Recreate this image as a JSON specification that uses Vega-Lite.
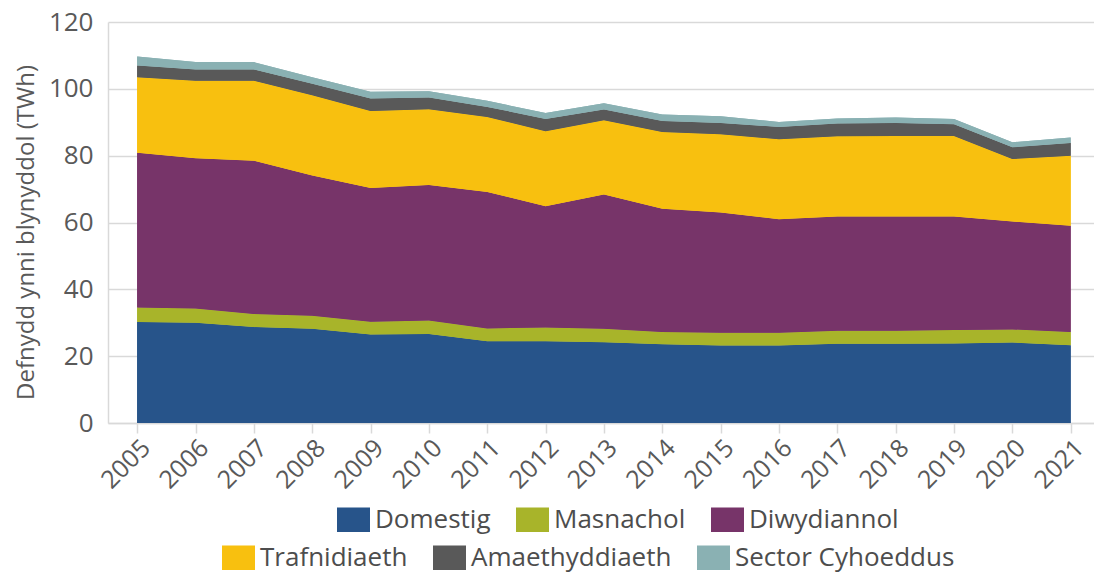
{
  "$schema": "https://vega.github.io/schema/vega-lite/v6.json",
  "autosize": "none",
  "padding": {"left": 108, "top": 22, "right": 0, "bottom": 151},
  "width": 986,
  "height": 401,
  "background": "white",
  "config": {
    "view": {"stroke": null},
    "font": "Open Sans",
    "axis": {"labelFont": "Open Sans", "titleFont": "Open Sans"},
    "legend": {"labelFont": "Open Sans"}
  },
  "data": {
    "values": [
      {"year": 2005, "sector": "Domestig", "o": 1, "value": 30.2},
      {"year": 2005, "sector": "Masnachol", "o": 2, "value": 4.4},
      {"year": 2005, "sector": "Diwydiannol", "o": 3, "value": 46.3},
      {"year": 2005, "sector": "Trafnidiaeth", "o": 4, "value": 22.6},
      {"year": 2005, "sector": "Amaethyddiaeth", "o": 5, "value": 3.5},
      {"year": 2005, "sector": "Sector Cyhoeddus", "o": 6, "value": 2.7},
      {"year": 2006, "sector": "Domestig", "o": 1, "value": 30.0},
      {"year": 2006, "sector": "Masnachol", "o": 2, "value": 4.3},
      {"year": 2006, "sector": "Diwydiannol", "o": 3, "value": 44.9},
      {"year": 2006, "sector": "Trafnidiaeth", "o": 4, "value": 23.2},
      {"year": 2006, "sector": "Amaethyddiaeth", "o": 5, "value": 3.4},
      {"year": 2006, "sector": "Sector Cyhoeddus", "o": 6, "value": 2.2},
      {"year": 2007, "sector": "Domestig", "o": 1, "value": 28.7},
      {"year": 2007, "sector": "Masnachol", "o": 2, "value": 3.9},
      {"year": 2007, "sector": "Diwydiannol", "o": 3, "value": 45.9},
      {"year": 2007, "sector": "Trafnidiaeth", "o": 4, "value": 23.9},
      {"year": 2007, "sector": "Amaethyddiaeth", "o": 5, "value": 3.4},
      {"year": 2007, "sector": "Sector Cyhoeddus", "o": 6, "value": 2.2},
      {"year": 2008, "sector": "Domestig", "o": 1, "value": 28.2},
      {"year": 2008, "sector": "Masnachol", "o": 2, "value": 3.9},
      {"year": 2008, "sector": "Diwydiannol", "o": 3, "value": 42.0},
      {"year": 2008, "sector": "Trafnidiaeth", "o": 4, "value": 24.0},
      {"year": 2008, "sector": "Amaethyddiaeth", "o": 5, "value": 3.4},
      {"year": 2008, "sector": "Sector Cyhoeddus", "o": 6, "value": 2.0},
      {"year": 2009, "sector": "Domestig", "o": 1, "value": 26.5},
      {"year": 2009, "sector": "Masnachol", "o": 2, "value": 3.8},
      {"year": 2009, "sector": "Diwydiannol", "o": 3, "value": 40.0},
      {"year": 2009, "sector": "Trafnidiaeth", "o": 4, "value": 23.1},
      {"year": 2009, "sector": "Amaethyddiaeth", "o": 5, "value": 3.7},
      {"year": 2009, "sector": "Sector Cyhoeddus", "o": 6, "value": 2.0},
      {"year": 2010, "sector": "Domestig", "o": 1, "value": 26.6},
      {"year": 2010, "sector": "Masnachol", "o": 2, "value": 4.1},
      {"year": 2010, "sector": "Diwydiannol", "o": 3, "value": 40.5},
      {"year": 2010, "sector": "Trafnidiaeth", "o": 4, "value": 22.7},
      {"year": 2010, "sector": "Amaethyddiaeth", "o": 5, "value": 3.5},
      {"year": 2010, "sector": "Sector Cyhoeddus", "o": 6, "value": 1.9},
      {"year": 2011, "sector": "Domestig", "o": 1, "value": 24.5},
      {"year": 2011, "sector": "Masnachol", "o": 2, "value": 3.8},
      {"year": 2011, "sector": "Diwydiannol", "o": 3, "value": 40.8},
      {"year": 2011, "sector": "Trafnidiaeth", "o": 4, "value": 22.5},
      {"year": 2011, "sector": "Amaethyddiaeth", "o": 5, "value": 3.0},
      {"year": 2011, "sector": "Sector Cyhoeddus", "o": 6, "value": 1.8},
      {"year": 2012, "sector": "Domestig", "o": 1, "value": 24.5},
      {"year": 2012, "sector": "Masnachol", "o": 2, "value": 4.1},
      {"year": 2012, "sector": "Diwydiannol", "o": 3, "value": 36.3},
      {"year": 2012, "sector": "Trafnidiaeth", "o": 4, "value": 22.4},
      {"year": 2012, "sector": "Amaethyddiaeth", "o": 5, "value": 3.7},
      {"year": 2012, "sector": "Sector Cyhoeddus", "o": 6, "value": 1.8},
      {"year": 2013, "sector": "Domestig", "o": 1, "value": 24.2},
      {"year": 2013, "sector": "Masnachol", "o": 2, "value": 4.0},
      {"year": 2013, "sector": "Diwydiannol", "o": 3, "value": 40.2},
      {"year": 2013, "sector": "Trafnidiaeth", "o": 4, "value": 22.2},
      {"year": 2013, "sector": "Amaethyddiaeth", "o": 5, "value": 3.2},
      {"year": 2013, "sector": "Sector Cyhoeddus", "o": 6, "value": 1.9},
      {"year": 2014, "sector": "Domestig", "o": 1, "value": 23.6},
      {"year": 2014, "sector": "Masnachol", "o": 2, "value": 3.6},
      {"year": 2014, "sector": "Diwydiannol", "o": 3, "value": 36.9},
      {"year": 2014, "sector": "Trafnidiaeth", "o": 4, "value": 23.0},
      {"year": 2014, "sector": "Amaethyddiaeth", "o": 5, "value": 3.3},
      {"year": 2014, "sector": "Sector Cyhoeddus", "o": 6, "value": 1.9},
      {"year": 2015, "sector": "Domestig", "o": 1, "value": 23.2},
      {"year": 2015, "sector": "Masnachol", "o": 2, "value": 3.8},
      {"year": 2015, "sector": "Diwydiannol", "o": 3, "value": 36.0},
      {"year": 2015, "sector": "Trafnidiaeth", "o": 4, "value": 23.4},
      {"year": 2015, "sector": "Amaethyddiaeth", "o": 5, "value": 3.4},
      {"year": 2015, "sector": "Sector Cyhoeddus", "o": 6, "value": 2.0},
      {"year": 2016, "sector": "Domestig", "o": 1, "value": 23.2},
      {"year": 2016, "sector": "Masnachol", "o": 2, "value": 3.8},
      {"year": 2016, "sector": "Diwydiannol", "o": 3, "value": 34.0},
      {"year": 2016, "sector": "Trafnidiaeth", "o": 4, "value": 23.9},
      {"year": 2016, "sector": "Amaethyddiaeth", "o": 5, "value": 3.7},
      {"year": 2016, "sector": "Sector Cyhoeddus", "o": 6, "value": 1.5},
      {"year": 2017, "sector": "Domestig", "o": 1, "value": 23.7},
      {"year": 2017, "sector": "Masnachol", "o": 2, "value": 3.9},
      {"year": 2017, "sector": "Diwydiannol", "o": 3, "value": 34.2},
      {"year": 2017, "sector": "Trafnidiaeth", "o": 4, "value": 24.0},
      {"year": 2017, "sector": "Amaethyddiaeth", "o": 5, "value": 3.8},
      {"year": 2017, "sector": "Sector Cyhoeddus", "o": 6, "value": 1.5},
      {"year": 2018, "sector": "Domestig", "o": 1, "value": 23.7},
      {"year": 2018, "sector": "Masnachol", "o": 2, "value": 3.9},
      {"year": 2018, "sector": "Diwydiannol", "o": 3, "value": 34.2},
      {"year": 2018, "sector": "Trafnidiaeth", "o": 4, "value": 24.1},
      {"year": 2018, "sector": "Amaethyddiaeth", "o": 5, "value": 3.9},
      {"year": 2018, "sector": "Sector Cyhoeddus", "o": 6, "value": 1.6},
      {"year": 2019, "sector": "Domestig", "o": 1, "value": 23.8},
      {"year": 2019, "sector": "Masnachol", "o": 2, "value": 4.0},
      {"year": 2019, "sector": "Diwydiannol", "o": 3, "value": 34.0},
      {"year": 2019, "sector": "Trafnidiaeth", "o": 4, "value": 24.1},
      {"year": 2019, "sector": "Amaethyddiaeth", "o": 5, "value": 3.5},
      {"year": 2019, "sector": "Sector Cyhoeddus", "o": 6, "value": 1.6},
      {"year": 2020, "sector": "Domestig", "o": 1, "value": 24.1},
      {"year": 2020, "sector": "Masnachol", "o": 2, "value": 3.9},
      {"year": 2020, "sector": "Diwydiannol", "o": 3, "value": 32.3},
      {"year": 2020, "sector": "Trafnidiaeth", "o": 4, "value": 18.7},
      {"year": 2020, "sector": "Amaethyddiaeth", "o": 5, "value": 3.5},
      {"year": 2020, "sector": "Sector Cyhoeddus", "o": 6, "value": 1.5},
      {"year": 2021, "sector": "Domestig", "o": 1, "value": 23.3},
      {"year": 2021, "sector": "Masnachol", "o": 2, "value": 3.9},
      {"year": 2021, "sector": "Diwydiannol", "o": 3, "value": 31.8},
      {"year": 2021, "sector": "Trafnidiaeth", "o": 4, "value": 21.0},
      {"year": 2021, "sector": "Amaethyddiaeth", "o": 5, "value": 3.8},
      {"year": 2021, "sector": "Sector Cyhoeddus", "o": 6, "value": 1.6}
    ]
  },
  "encoding": {
    "x": {
      "field": "year",
      "type": "quantitative",
      "scale": {"domain": [2004.5, 2021.4], "nice": false, "zero": false},
      "axis": {
        "title": null,
        "values": [2005, 2006, 2007, 2008, 2009, 2010, 2011, 2012, 2013, 2014, 2015, 2016, 2017, 2018, 2019, 2020, 2021],
        "format": "d",
        "labelAngle": -45,
        "labelFontSize": 25,
        "labelColor": "#595959",
        "labelPadding": 2,
        "tickColor": "#d9d9d9",
        "tickSize": 10,
        "tickWidth": 1.5,
        "domainColor": "#d9d9d9",
        "domainWidth": 1.5,
        "grid": false,
        "labelOverlap": false,
        "labelBound": false,
        "labelFlush": false
      }
    },
    "y": {
      "field": "value",
      "type": "quantitative",
      "stack": "zero",
      "scale": {"domain": [0, 120], "nice": false},
      "axis": {
        "title": "Defnydd ynni blynyddol (TWh)",
        "titleFontSize": 24,
        "titleFontWeight": "normal",
        "titleColor": "#595959",
        "titlePadding": 10,
        "titleY": 210,
        "values": [0, 20, 40, 60, 80, 100, 120],
        "labelFontSize": 26,
        "labelColor": "#595959",
        "labelPadding": 15,
        "ticks": false,
        "grid": true,
        "gridColor": "#d9d9d9",
        "gridWidth": 1.5,
        "domainColor": "#d9d9d9",
        "domainWidth": 1.5
      }
    },
    "order": {"field": "o", "type": "quantitative"}
  },
  "layer": [
    {
      "mark": {"type": "area", "opacity": 1},
      "encoding": {
        "color": {
          "field": "sector",
          "type": "nominal",
          "scale": {
            "domain": ["Domestig", "Masnachol", "Diwydiannol", "Trafnidiaeth", "Amaethyddiaeth", "Sector Cyhoeddus"],
            "range": ["#27548A", "#A8B42A", "#773469", "#F8C00F", "#595959", "#8AB1B3"]
          },
          "legend": {
            "values": ["Domestig", "Masnachol", "Diwydiannol"],
            "title": null,
            "orient": "none",
            "direction": "horizontal",
            "legendX": 229,
            "legendY": 481,
            "padding": 0,
            "symbolType": "M-1,-0.74H1V0.74H-1Z",
            "symbolSize": 1089,
            "symbolStrokeWidth": 0,
            "symbolOpacity": 1,
            "labelFontSize": 26,
            "labelColor": "#4d4d4d",
            "labelOffset": 5,
            "columnPadding": 25,
            "labelLimit": 400
          }
        }
      }
    },
    {
      "mark": {"type": "area", "opacity": 1},
      "encoding": {
        "fill": {
          "field": "sector",
          "type": "nominal",
          "scale": {
            "domain": ["Trafnidiaeth", "Amaethyddiaeth", "Sector Cyhoeddus", "Domestig", "Masnachol", "Diwydiannol"],
            "range": ["#F8C00F", "#595959", "#8AB1B3", "#27548A", "#A8B42A", "#773469"]
          },
          "legend": {
            "values": ["Trafnidiaeth", "Amaethyddiaeth", "Sector Cyhoeddus"],
            "title": null,
            "orient": "none",
            "direction": "horizontal",
            "legendX": 114,
            "legendY": 519,
            "padding": 0,
            "symbolType": "M-1,-0.74H1V0.74H-1Z",
            "symbolSize": 1089,
            "symbolStrokeWidth": 0,
            "symbolOpacity": 1,
            "labelFontSize": 26,
            "labelColor": "#4d4d4d",
            "labelOffset": 5,
            "columnPadding": 25,
            "labelLimit": 400
          }
        }
      }
    }
  ]
}
